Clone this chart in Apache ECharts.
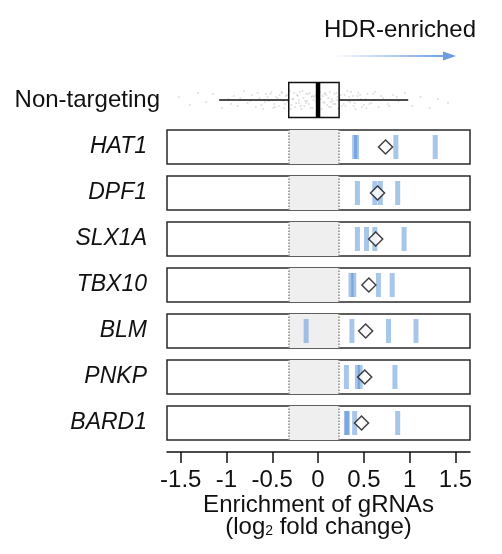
<!DOCTYPE html>
<html>
<head>
<meta charset="utf-8">
<script src="https://cdn.jsdelivr.net/npm/echarts@6/dist/echarts.min.js"></script>
<style>
  html, body { margin: 0; padding: 0; background: #fff; }
  #chart { width: 502px; height: 554px; }
</style>
</head>
<body>
<div id="chart"></div>
<script>
const FONT = '"Liberation Sans", Arial, Helvetica, sans-serif';

// x axis
const xMin = -1.65;
const xMax = 1.66;
const tickValues = [-1.5, -1, -0.5, 0, 0.5, 1, 1.5];

// non-targeting distribution: [min, Q1, median, Q3, max]
const nonTargetingBox = [-1.08, -0.32, 0, 0.23, 0.985];
// individual non-targeting gRNAs: [log2FC, vertical jitter in px]
const nonTargetingPoints = [
  [-1.52, 3], [-1.4, -5], [-1.31, 7], [-1.22, -2], [-1.15, 6], [-1.05, -8], [-0.98, 1], [-0.92, 4],
  [-0.88, -6], [-0.81, 9], [-0.77, -3], [-0.72, 5], [-0.68, -7], [-0.64, 2], [-0.6, -9], [-0.57, 6],
  [-0.54, -1], [-0.51, 8], [-0.48, -4], [-0.46, 3], [-0.43, -6], [-0.41, 0], [-0.39, 7], [-0.37, -8],
  [-0.35, 4], [-0.33, -2], [-0.31, 9], [-0.29, -5], [-0.27, 1], [-0.25, -7], [-0.23, 5], [-0.21, -3],
  [-0.2, 8], [-0.18, -9], [-0.16, 2], [-0.15, -6], [-0.13, 6], [-0.12, -1], [-0.1, -4], [-0.09, 7],
  [-0.07, 3], [-0.06, -8], [-0.05, 0], [-0.03, 5], [-0.02, -2], [0, 9], [0.01, -6], [0.03, 1],
  [0.04, -9], [0.05, 4], [0.07, -3], [0.08, 7], [0.1, -5], [0.11, 2], [0.13, 8], [0.14, -7],
  [0.16, -1], [0.18, 6], [0.19, -4], [0.21, 3], [0.23, -8], [0.25, 5], [0.27, 0], [0.3, -6],
  [0.32, 9], [0.35, -2], [0.38, 4], [0.41, -9], [0.44, 7], [0.47, 1], [0.5, -5], [0.54, 6],
  [0.58, -3], [0.62, 8], [0.66, -7], [0.71, 2], [0.76, -4], [0.82, 5], [0.88, -1], [0.95, 7],
  [1.03, -6], [1.12, 3], [1.22, -8], [1.31, 1], [1.42, -3],
  [-0.58, -2], [-0.52, 6], [-0.47, -7], [-0.44, 2], [-0.4, 8], [-0.36, -4], [-0.34, 5], [-0.3, -9],
  [-0.28, 1], [-0.26, 7], [-0.24, -3], [-0.22, 4], [-0.19, -6], [-0.17, 9], [-0.14, -1], [-0.11, 6],
  [-0.08, -8], [-0.04, 3], [-0.01, -5], [0.02, 8], [0.06, -2], [0.09, 5], [0.12, -7], [0.15, 1],
  [0.17, -4], [0.2, 7], [0.22, -9], [0.24, 2], [0.26, -6], [0.29, 5], [0.33, -1], [0.36, 8],
  [0.4, -3], [0.43, 4], [0.48, -7], [0.52, 1], [0.56, -4], [0.6, 6],
  [-0.95, -4], [-0.85, 2], [-0.74, -1], [-0.66, 7], [-0.62, -5], [-0.55, 3], [-0.49, -8], [-0.42, 5],
  [-0.38, -1], [-0.32, 2], [-0.21, 0], [-0.13, -3], [-0.06, 4], [0.0, -7], [0.07, 6], [0.14, -2],
  [0.21, 0], [0.28, -4], [0.34, 3], [0.39, -6], [0.46, 5], [0.53, -8], [0.61, 0], [0.69, 4],
  [0.78, -6], [0.86, 3]
];

// gRNA log2 fold changes per gene
const genes = ['HAT1', 'DPF1', 'SLX1A', 'TBX10', 'BLM', 'PNKP', 'BARD1'];
const hat1 = [0.40, 0.42, 0.85, 1.28];
const dpf1 = [0.43, 0.62, 0.68, 0.87];
const slx1a = [0.43, 0.53, 0.62, 0.94];
const tbx10 = [0.36, 0.39, 0.66, 0.81];
const blm = [-0.13, 0.37, 0.77, 1.07];
const pnkp = [0.31, 0.43, 0.46, 0.84];
const bard1 = [0.31, 0.32, 0.40, 0.87];
const geneValues = [hat1, dpf1, slx1a, tbx10, blm, pnkp, bard1];

const barColor = 'rgba(74,134,212,0.6)';
const left = 167, width = 303;

const chart = echarts.init(document.getElementById('chart'));

const grids = [{ left: left, width: width, top: 71, height: 58 }];
const xAxes = [{ gridIndex: 0, type: 'value', min: xMin, max: xMax, show: false }];
const yAxes = [
  {
    gridIndex: 0, type: 'category', data: ['Non-targeting'],
    axisLine: { show: false }, axisTick: { show: false },
    axisLabel: { fontSize: 24, color: '#111', fontFamily: FONT, margin: 7 }
  },
  { gridIndex: 0, type: 'value', min: -29, max: 29, show: false }
];
const series = [
  {
    type: 'scatter', xAxisIndex: 0, yAxisIndex: 1, silent: true,
    symbolSize: 2, itemStyle: { color: 'rgba(120,120,120,0.3)' },
    data: nonTargetingPoints
  },
  {
    type: 'custom', xAxisIndex: 0, yAxisIndex: 0, silent: true, z: 5,
    encode: { x: [1, 2, 3, 4, 5], y: 0 },
    data: [[0].concat(nonTargetingBox)],
    renderItem: function (params, api) {
      const c = api.value(0);
      const p = [1, 2, 3, 4, 5].map(function (d) { return api.coord([api.value(d), c]); });
      const cy = p[0][1], h = 17.5;
      const stroke = { stroke: '#111', lineWidth: 1.5, fill: null };
      return {
        type: 'group',
        children: [
          { type: 'line', shape: { x1: p[0][0], y1: cy, x2: p[1][0], y2: cy }, style: stroke },
          { type: 'line', shape: { x1: p[3][0], y1: cy, x2: p[4][0], y2: cy }, style: stroke },
          { type: 'rect', shape: { x: p[1][0], y: cy - h, width: p[3][0] - p[1][0], height: 2 * h }, style: stroke },
          { type: 'line', shape: { x1: p[2][0], y1: cy - h, x2: p[2][0], y2: cy + h }, style: { stroke: '#000', lineWidth: 4.5 } }
        ]
      };
    }
  }
];

genes.forEach(function (gene, i) {
  const gi = i + 1;
  const last = i === genes.length - 1;
  grids.push({
    left: left, width: width, top: 130 + 46 * i, height: 34,
    show: true, borderColor: '#2a2a2a', borderWidth: 1.5, backgroundColor: '#fff'
  });
  xAxes.push(last ? {
    gridIndex: gi, type: 'value', min: xMin, max: xMax, offset: 12,
    splitLine: { show: false },
    axisLine: { show: true, onZero: false, lineStyle: { color: '#111', width: 1.5 } },
    axisTick: { show: true, length: 11, customValues: tickValues, lineStyle: { color: '#111', width: 1.5 } },
    axisLabel: { customValues: tickValues, fontSize: 24, color: '#111', fontFamily: FONT, margin: 16 },
    name: 'Enrichment of gRNAs\n(log{sub|2} fold change)',
    nameLocation: 'middle', nameGap: 27,
    nameTextStyle: {
      fontSize: 24, color: '#111', fontFamily: FONT, lineHeight: 22,
      rich: { sub: { fontSize: 14, color: '#111', fontFamily: FONT, verticalAlign: 'bottom', lineHeight: 22, padding: [10, 0, 0, 0] } }
    }
  } : { gridIndex: gi, type: 'value', min: xMin, max: xMax, show: false });
  yAxes.push({
    gridIndex: gi, type: 'category', data: [gene],
    axisLine: { show: false },
    axisTick: { show: true, length: 10, alignWithLabel: true, lineStyle: { color: '#333', width: 1.5 } },
    axisLabel: { fontSize: 23, fontStyle: 'italic', color: '#111', fontFamily: FONT, margin: 20 }
  });
  const yi = gi + 1;
  const vals = geneValues[i];
  const mean = vals.reduce(function (a, b) { return a + b; }, 0) / vals.length;
  series.push({
    type: 'scatter', xAxisIndex: gi, yAxisIndex: yi, silent: true,
    symbol: 'rect', symbolSize: [5, 24],
    itemStyle: { color: barColor },
    data: vals.map(function (v) { return [v, gene]; }),
    markArea: {
      silent: true, itemStyle: { color: '#efefef' },
      data: [[{ xAxis: nonTargetingBox[1] }, { xAxis: nonTargetingBox[3] }]]
    },
    markLine: {
      silent: true, symbol: 'none', label: { show: false },
      lineStyle: { color: '#8a8a8a', type: 'dotted', width: 1.5 },
      data: [{ xAxis: nonTargetingBox[1] }, { xAxis: nonTargetingBox[3] }]
    }
  });
  series.push({
    type: 'scatter', xAxisIndex: gi, yAxisIndex: yi, silent: true, z: 4,
    symbol: 'diamond', symbolSize: 14,
    itemStyle: { color: '#fff', borderColor: '#111', borderWidth: 1.5 },
    data: [[mean, gene]]
  });
});

chart.setOption({
  animation: false,
  textStyle: { fontFamily: FONT },
  grid: grids,
  xAxis: xAxes,
  yAxis: yAxes,
  series: series,
  graphic: [
    {
      type: 'text', x: 324, y: 30,
      style: { text: 'HDR-enriched', fontSize: 24, fontFamily: FONT, fill: '#111', textVerticalAlign: 'middle' }
    },
    {
      type: 'line', shape: { x1: 335, y1: 56, x2: 447, y2: 56 },
      style: {
        lineWidth: 2,
        stroke: {
          type: 'linear', x: 0, y: 0, x2: 1, y2: 0,
          colorStops: [{ offset: 0, color: 'rgba(107,157,224,0)' }, { offset: 1, color: '#6b9de0' }]
        }
      }
    },
    {
      type: 'polygon', shape: { points: [[443, 51.5], [456, 56], [443, 60.5]] },
      style: { fill: '#6b9de0' }
    }
  ]
});
</script>
</body>
</html>
